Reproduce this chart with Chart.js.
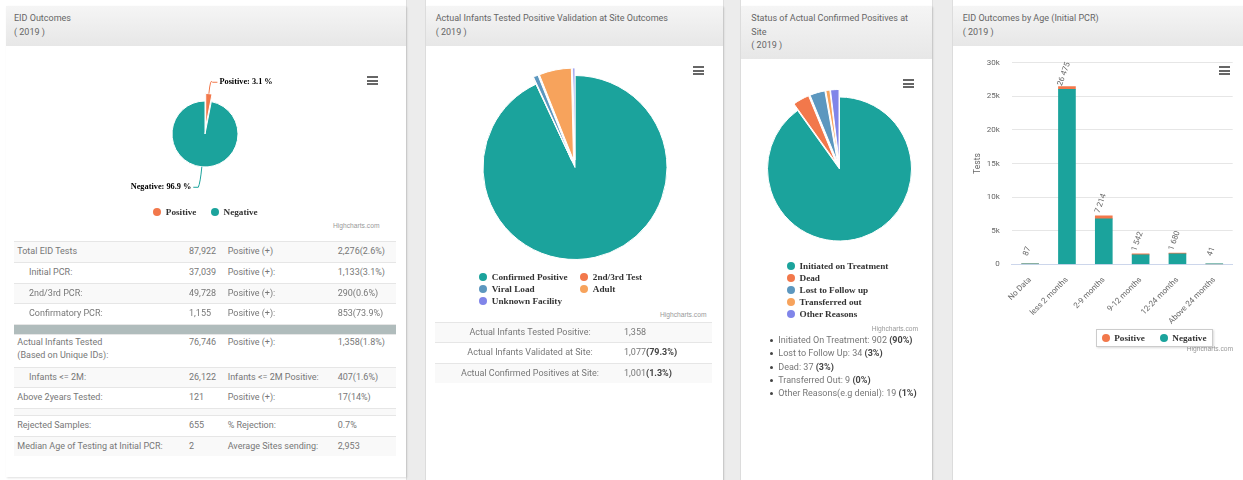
<!DOCTYPE html>
<html><head><meta charset="utf-8">
<script src="https://cdn.jsdelivr.net/npm/chart.js@4.4.1/dist/chart.umd.min.js"></script>
<style>
*{box-sizing:border-box}
html,body{margin:0;padding:0}
body{width:1243px;height:480px;position:relative;overflow:hidden;background:#fff;font-family:Roboto,sans-serif;color:#666}
.gap{position:absolute;top:0;height:480px;background:#ececec;border-left:1px solid #dedede;border-right:1px solid #dedede}
.panel{position:absolute;top:6px;background:#fff;box-shadow:1px 1px 2px rgba(0,0,0,.13)}
.hdr{position:absolute;left:0;right:0;top:0;background:linear-gradient(#f5f5f5,#e7e7e7)}
.ttl{position:absolute;font-size:9px;line-height:13.5px;color:#666;white-space:nowrap}
canvas{position:absolute}
.menu{position:absolute;width:11px;height:9px;border-top:2px solid #666;border-bottom:2px solid #666}
.menu:after{content:'';position:absolute;left:0;right:0;top:1.5px;height:2px;background:#666}
.credit{position:absolute;font:6.7px "Liberation Sans",Arial,sans-serif;color:#999;white-space:nowrap}
.legend{position:absolute;font:bold 9.2px "Liberation Serif",serif;color:#333;white-space:nowrap}
.legend .li{display:flex;align-items:center;height:12px}
.legend .mk{width:8px;height:8px;border-radius:50%;margin-right:4.5px;flex:none}
.row{position:absolute;border-top:1px solid #e6e6e6;font-size:9px;line-height:13px;color:#777;white-space:nowrap}
.row span{position:absolute}
.row b{color:#444}
.li3{position:absolute;font-size:9px;line-height:13px;color:#777;white-space:nowrap}
.li3 b{color:#444}
.bul{position:absolute;width:3px;height:3px;border-radius:50%;background:#444}
</style></head>
<body>
<div class="gap" style="left:406px;width:20px"></div>
<div class="gap" style="left:723px;width:18px"></div>
<div class="gap" style="left:932px;width:21px"></div>

<div class="panel" style="left:6px;width:400px;height:471px"><div class="hdr" style="height:40px"></div></div>
<div class="panel" style="left:426px;width:297px;height:480px"><div class="hdr" style="height:40px"></div></div>
<div class="panel" style="left:741px;width:191px;height:480px"><div class="hdr" style="height:53px"></div></div>
<div class="panel" style="left:953px;width:295px;height:480px"><div class="hdr" style="height:40px"></div></div>

<div class="ttl" style="left:14px;top:12.3px">EID Outcomes<br>( 2019 )</div>
<div class="ttl" style="left:435.7px;top:12.3px">Actual Infants Tested Positive Validation at Site Outcomes<br>( 2019 )</div>
<div class="ttl" style="left:751.3px;top:12.3px">Status of Actual Confirmed Positives at<br>Site<br>( 2019 )</div>
<div class="ttl" style="left:962.7px;top:12.3px">EID Outcomes by Age (Initial PCR)<br>( 2019 )</div>

<canvas id="c1" width="398" height="176" style="left:6px;top:46px;width:398px;height:176px"></canvas>
<canvas id="c2" width="298" height="243" style="left:426px;top:46px;width:298px;height:243px"></canvas>
<canvas id="c3" width="197" height="220" style="left:741px;top:59px;width:197px;height:220px"></canvas>
<canvas id="c4" width="290" height="280" style="left:953px;top:46px;width:290px;height:280px"></canvas>

<div class="menu" style="left:366.7px;top:76.2px"></div>
<div class="menu" style="left:692.7px;top:66.2px"></div>
<div class="menu" style="left:903.3px;top:79.3px"></div>
<div class="menu" style="left:1219.3px;top:66px"></div>

<div class="credit" style="left:333px;top:222px">Highcharts.com</div>
<div class="credit" style="left:660px;top:311px">Highcharts.com</div>
<div class="credit" style="left:871.7px;top:325px">Highcharts.com</div>
<div class="credit" style="left:1186.7px;top:344.7px">Highcharts.com</div>

<div id="lg1" class="legend" style="left:153.3px;top:205.7px;display:flex;gap:14.6px"></div>
<div id="lg2" class="legend" style="left:479.3px;top:271px;display:grid;grid-template-columns:101px 100px"></div>
<div id="lg3" class="legend" style="left:787px;top:260px;line-height:12.1px"></div>
<div id="lg4" class="legend" style="left:1096px;top:328.7px;width:116.7px;height:18.6px;border:1px solid #ccc;box-shadow:1px 1px 2px rgba(0,0,0,.15);background:#fff;display:flex;align-items:center;padding-left:4.7px;gap:15px"></div>

<div id="tbl1"></div>
<div id="tbl2"></div>
<div id="list3"></div>

<script>
// ---------- data ----------
const eidLabels = ['Positive', 'Negative'];
const eidValues = [1133, 35906];

const validationCats = ['Confirmed Positive', '2nd/3rd Test', 'Viral Load', 'Adult', 'Unknown Facility'];
const validationValues = [1001, 1, 9, 61, 4];

const statusCats = ['Initiated on Treatment', 'Dead', 'Lost to Follow up', 'Transferred out', 'Other Reasons'];
const statusValues = [902, 37, 34, 9, 19];

const ageCats = ['No Data', 'less 2 months', '2-9 months', '9-12 months', '12-24 months', 'Above 24 months'];
const agePositive = [5, 407, 450, 130, 130, 11];
const ageNegative = [82, 26068, 6764, 1412, 1550, 30];
const ageTicks = [0, 5000, 10000, 15000, 20000, 25000, 30000];

const summaryLabels = ['Total EID Tests', 'Initial PCR:', '2nd/3rd PCR:', 'Confirmatory PCR:', 'Actual Infants Tested\n(Based on Unique IDs):', 'Infants <= 2M:', 'Above 2years Tested:', 'Rejected Samples:', 'Median Age of Testing at Initial PCR:'];
const summaryValues = ['87,922', '37,039', '49,728', '1,155', '76,746', '26,122', '121', '655', '2'];
const summaryLabels2 = ['Positive (+)', 'Positive (+):', 'Positive (+):', 'Positive (+):', 'Positive (+):', 'Infants <= 2M Positive:', 'Positive (+):', '% Rejection:', 'Average Sites sending:'];
const summaryValues2 = ['2,276(2.6%)', '1,133(3.1%)', '290(0.6%)', '853(73.9%)', '1,358(1.8%)', '407(1.6%)', '17(14%)', '0.7%', '2,953'];
const summaryIndent = [false, true, true, true, false, true, false, false, false];

const validationRowLabels = ['Actual Infants Tested Positive:', 'Actual Infants Validated at Site:', 'Actual Confirmed Positives at Site:'];
const validationRowCounts = ['1,358', '1,077', '1,001'];
const validationRowPct = ['', '79.3%', '1.3%'];

const statusListLabels = ['Initiated On Treatment', 'Lost to Follow Up', 'Dead', 'Transferred Out', 'Other Reasons(e.g denial)'];
const statusListCounts = [902, 34, 37, 9, 19];
const statusListPct = ['90%', '3%', '3%', '0%', '1%'];

// ---------- styles ----------
const TEAL = '#1BA39C', ORANGE = '#F2784B', BLUE = '#5C97BF', LORANGE = '#F7A35C', PURPLE = '#8085E9';
Chart.defaults.font.family = 'Roboto, sans-serif';

// slice offset (Highcharts-like: translate whole slice)
const slicedPlugin = {
  id: 'sliced',
  beforeDatasetDraw(chart, args) {
    const ds = chart.data.datasets[args.index];
    const dist = ds.slicedOffset || 0;
    if (!dist || !ds.sliced) return;
    args.meta.data.forEach((arc, i) => {
      if (!ds.sliced[i] || arc.__sl) return;
      const draw = arc.draw;
      arc.draw = function (ctx) {
        const h = (this.startAngle + this.endAngle) / 2;
        ctx.save();
        ctx.translate(Math.cos(h) * dist, Math.sin(h) * dist);
        draw.call(this, ctx);
        ctx.restore();
      };
      arc.__sl = true;
    });
  }
};

// outside data labels with connectors
const pieLabelPlugin = {
  id: 'pieLabels',
  afterDatasetsDraw(chart) {
    const ctx = chart.ctx;
    const ds = chart.data.datasets[0];
    const meta = chart.getDatasetMeta(0);
    const total = ds.data.reduce((a, b) => a + b, 0);
    ctx.save();
    ctx.font = 'bold 8.3px "Liberation Serif", serif';
    ctx.textBaseline = 'middle';
    meta.data.forEach((arc, i) => {
      const h = (arc.startAngle + arc.endAngle) / 2;
      const sl = ds.sliced && ds.sliced[i] ? ds.slicedOffset : 0;
      const r = arc.outerRadius;
      const cx = arc.x + Math.cos(h) * sl, cy = arc.y + Math.sin(h) * sl;
      const p0 = [cx + Math.cos(h) * r, cy + Math.sin(h) * r];
      const p1 = [cx + Math.cos(h) * (r + 16), cy + Math.sin(h) * (r + 16)];
      const right = Math.cos(h) >= 0;
      const lx = p1[0] + (right ? 9 : -9), ly = p1[1] + 4.5;
      ctx.strokeStyle = ds.backgroundColor[i];
      ctx.lineWidth = 1;
      ctx.beginPath();
      ctx.moveTo(p0[0], p0[1]);
      ctx.quadraticCurveTo(p1[0], p1[1], p1[0] + (right ? 2 : -2), ly);
      ctx.lineTo(lx + (right ? -2 : 2), ly);
      ctx.stroke();
      const txt = chart.data.labels[i] + ': ' + (ds.data[i] / total * 100).toFixed(1) + ' %';
      ctx.textAlign = right ? 'left' : 'right';
      ctx.lineWidth = 2; ctx.strokeStyle = '#fff'; ctx.lineJoin = 'round';
      ctx.strokeText(txt, lx, ly);
      ctx.fillStyle = '#000';
      ctx.fillText(txt, lx, ly);
    });
    ctx.restore();
  }
};

const fmtSpace = n => String(n).replace(/\B(?=(\d{3})+(?!\d))/g, ' ');

const stackTotals = {
  id: 'stackTotals',
  afterDatasetsDraw(chart) {
    const ctx = chart.ctx, y = chart.scales.y;
    const m0 = chart.getDatasetMeta(0);
    ctx.save();
    ctx.font = '8px Roboto, sans-serif';
    ctx.fillStyle = '#666';
    ctx.textAlign = 'center';
    ctx.textBaseline = 'middle';
    chart.data.labels.forEach((_, i) => {
      const total = chart.data.datasets.reduce((s, d) => s + d.data[i], 0);
      const x = m0.data[i].x, yy = y.getPixelForValue(total);
      ctx.save();
      ctx.translate(x - 3, yy - 12.4);
      ctx.rotate(-70 * Math.PI / 180);
      ctx.fillText(fmtSpace(total), 0, 0);
      ctx.restore();
    });
    ctx.restore();
  }
};

function htmlLegend(chart, el, sortByDataset) {
  let items = chart.options.plugins.legend.labels.generateLabels(chart);
  if (sortByDataset) items = items.sort((a, b) => a.datasetIndex - b.datasetIndex);
  items.forEach(it => {
    const d = document.createElement('div'); d.className = 'li';
    const m = document.createElement('span'); m.className = 'mk'; m.style.background = it.fillStyle;
    d.appendChild(m); d.appendChild(document.createTextNode(it.text));
    el.appendChild(d);
  });
}

function pie(id, labels, values, colors, radius, sliced, extra) {
  return new Chart(document.getElementById(id), {
    type: 'pie',
    data: { labels, datasets: [{ data: values, backgroundColor: colors, borderColor: '#fff', borderWidth: 1, radius, sliced, slicedOffset: 7.5 }] },
    options: { responsive: false, animation: false, events: [], plugins: { legend: { display: false }, tooltip: { enabled: false } } },
    plugins: [slicedPlugin].concat(extra || [])
  });
}

const ch1 = pie('c1', eidLabels, eidValues, [ORANGE, TEAL], 33, [true, false], [pieLabelPlugin]);
const ch2 = pie('c2', validationCats, validationValues, [TEAL, ORANGE, BLUE, LORANGE, PURPLE], 92, [false, true, true, true, true]);
const ch3 = pie('c3', statusCats, statusValues, [TEAL, ORANGE, BLUE, LORANGE, PURPLE], 72, [false, true, true, true, true]);

const ch4 = new Chart(document.getElementById('c4'), {
  type: 'bar',
  data: {
    labels: ageCats,
    datasets: [
      { label: 'Positive', data: agePositive, backgroundColor: ORANGE, order: 2, barThickness: 17 },
      { label: 'Negative', data: ageNegative, backgroundColor: TEAL, order: 1, barThickness: 17 }
    ]
  },
  options: {
    responsive: false, animation: false, events: [],
    layout: { padding: { left: 16, right: 10.3, top: 16, bottom: 0 } },
    plugins: { legend: { display: false }, tooltip: { enabled: false } },
    scales: {
      x: {
        stacked: true,
        grid: { display: false },
        border: { color: '#ccd6eb' },
        ticks: { color: '#666', font: { size: 8 }, minRotation: 45, maxRotation: 45, autoSkip: false, padding: 3 },
        afterFit(s) { s.height = 61.7; }
      },
      y: {
        stacked: true, min: ageTicks[0], max: ageTicks[ageTicks.length - 1],
        afterBuildTicks(s) { s.ticks = ageTicks.map(v => ({ value: v })); },
        ticks: { color: '#666', font: { size: 8 }, padding: 12, callback: v => v === 0 ? '0' : (v / 1000) + 'k' },
        grid: { color: '#e6e6e6', drawTicks: false },
        border: { display: false },
        title: { display: true, text: 'Tests', color: '#666', font: { size: 8.5 } },
        afterFit(s) { s.width = 42.7; }
      }
    }
  },
  plugins: [stackTotals]
});

htmlLegend(ch1, document.getElementById('lg1'));
htmlLegend(ch2, document.getElementById('lg2'));
htmlLegend(ch3, document.getElementById('lg3'));
htmlLegend(ch4, document.getElementById('lg4'), true);

// ---------- table 1 ----------
(function () {
  const root = document.getElementById('tbl1');
  const layout = [
    { top: 241, h: 21, bg: true }, { top: 262, h: 20.5 }, { top: 282.5, h: 20.5, bg: true }, { top: 303, h: 20.5 },
    { top: 333.5, h: 33.2, pad: 2.7 }, { top: 366.7, h: 20.3, bg: true }, { top: 387, h: 21 },
    { top: 415, h: 20.5 }, { top: 435.5, h: 20.5, bg: true }
  ];
  const mk = (top, h, bg) => {
    const r = document.createElement('div'); r.className = 'row';
    Object.assign(r.style, { left: '14px', width: '382px', top: top + 'px', height: h + 'px', background: bg });
    root.appendChild(r); return r;
  };
  summaryLabels.forEach((lab, i) => {
    const L = layout[i];
    const r = mk(L.top, L.h, L.bg ? '#f9f9f9' : '#fff');
    const pad = (L.pad !== undefined ? L.pad : 4) - 1;
    const cells = [[summaryIndent[i] ? 15 : 3.3, lab], [175, summaryValues[i]], [213.7, summaryLabels2[i]], [323.7, summaryValues2[i]]];
    cells.forEach(([x, t]) => {
      const s = document.createElement('span');
      s.style.left = x + 'px'; s.style.top = pad + 'px';
      s.innerText = t; r.appendChild(s);
    });
  });
  const sep = mk(323.5, 10, '#b0bcbc'); sep.style.borderTop = '1px solid #e6e6e6';
  mk(408, 7, '#f9f9f9');
})();

// ---------- table 2 ----------
(function () {
  const root = document.getElementById('tbl2');
  const tops = [321.7, 342, 362.5], hs = [20.3, 20.5, 20.2];
  validationRowLabels.forEach((lab, i) => {
    const r = document.createElement('div'); r.className = 'row';
    Object.assign(r.style, { left: '435px', width: '277px', top: tops[i] + 'px', height: hs[i] + 'px', background: i % 2 === 0 ? '#f9f9f9' : '#fff' });
    const a = document.createElement('span');
    Object.assign(a.style, { left: '0px', width: '190px', textAlign: 'center', top: '3px' });
    a.innerText = lab;
    const b = document.createElement('span');
    Object.assign(b.style, { left: '189px', top: '3px' });
    b.innerHTML = validationRowCounts[i] + (validationRowPct[i] ? '<b>(' + validationRowPct[i] + ')</b>' : '');
    r.appendChild(a); r.appendChild(b); root.appendChild(r);
  });
})();

// ---------- list 3 ----------
(function () {
  const root = document.getElementById('list3');
  const ys = [340, 353.7, 367, 380, 393.7];
  statusListLabels.forEach((lab, i) => {
    const d = document.createElement('div'); d.className = 'li3';
    Object.assign(d.style, { left: '778.3px', top: (ys[i] - 6.5) + 'px' });
    d.innerHTML = lab + ': ' + statusListCounts[i] + ' <b>(' + statusListPct[i] + ')</b>';
    const b = document.createElement('div'); b.className = 'bul';
    Object.assign(b.style, { left: '770px', top: (ys[i] - 1.5) + 'px' });
    root.appendChild(b); root.appendChild(d);
  });
})();
</script>
</body></html>
